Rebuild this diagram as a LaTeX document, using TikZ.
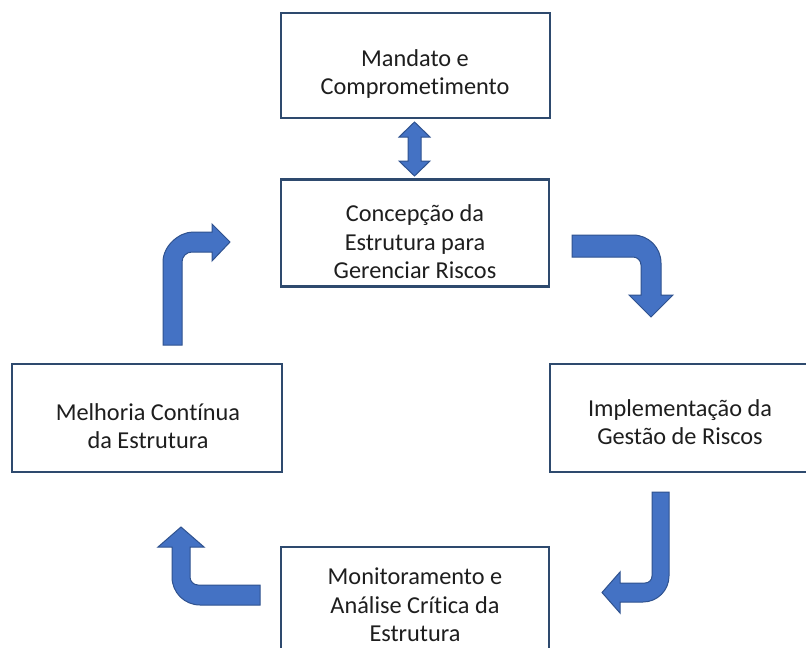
\documentclass[tikz,border=0pt]{standalone}
\usepackage{fontspec}
\setmainfont{Carlito}[Ligatures=NoCommon]
\definecolor{boxline}{HTML}{2E4A6E}
\definecolor{arrowfill}{HTML}{4472C4}
\definecolor{arrowline}{HTML}{2F528F}
\definecolor{txt}{HTML}{1E1E1E}
\begin{document}
\begin{tikzpicture}[x=1pt,y=-1pt,
  box/.style={draw=boxline,line width=2.5pt,inner sep=0pt},
  lbl/.style={align=center,text=txt,inner sep=0pt,font=\fontsize{24.3}{28.5}\selectfont},
  blockarrow/.style={fill=arrowfill,draw=arrowline,line width=1pt,line join=miter}]
\useasboundingbox (0,0) rectangle (806,648);
\clip (0,0) rectangle (806,648);
\fill[white] (0,0) rectangle (806,648);

% boxes
\node[box,minimum width=269pt,minimum height=105pt] (top) at (415.5,65.5) {};
\node[box,minimum width=268pt,minimum height=107pt] (mid) at (415,233) {};
\node[box,minimum width=270pt,minimum height=108pt] (left) at (147,418) {};
\node[box,minimum width=265pt,minimum height=108pt] (right) at (682.5,418) {};
\node[box,minimum width=268pt,minimum height=150pt] (bottom) at (415,622) {};

% texts
\node[lbl] (ttop) at (415,74) {Mandato e\\Comprometimento};
\node[lbl] (tmid) at (415,242) {Concepção da\\Estrutura para\\Gerenciar Riscos};
\node[lbl] (tleft) at (148,426) {Melhoria Contínua\\da Estrutura};
\node[lbl] (tright) at (680,422) {Implementação da\\Gestão de Riscos};
\node[lbl] (tbottom) at (415,605) {Monitoramento e\\Análise Crítica da\\Estrutura};

% double arrow
\draw[blockarrow] (414.5,122) -- (430,137) -- (421,137) -- (421,161) -- (430,161) -- (414.5,176)
  -- (399,161) -- (408,161) -- (408,137) -- (399,137) -- cycle;

% bent arrow: up then right
\draw[blockarrow] (163,345) -- (163,262) .. controls (163,245.4) and (179.6,232) .. (193,232) -- (212,232) -- (212,224)
  -- (230,242) -- (212,261) -- (212,252) -- (192,252) .. controls (186.5,252) and (182,256.5) .. (182,262) -- (182,345) -- cycle;

% bent arrow: right then down
\draw[blockarrow] (572,235) -- (633,235) .. controls (648.5,235) and (661,247.5) .. (661,263) -- (661,295) -- (673,295)
  -- (651,317) -- (629,295) -- (641,295) -- (641,265) .. controls (641,260.6) and (637.4,257) .. (633,257) -- (572,257) -- cycle;

% bent arrow: down then left
\draw[blockarrow] (652,492) -- (669,492) -- (669,576) .. controls (669,590.4) and (657.4,602) .. (643,602) -- (620,602)
  -- (620,613) -- (602,592.5) -- (620,572) -- (620,583) -- (645,583) .. controls (648.9,583) and (652,579.9) .. (652,576) -- cycle;

% bent arrow: left then up
\draw[blockarrow] (260,585) -- (260,605) -- (200,605) .. controls (184.5,605) and (172,592.5) .. (172,577) -- (172,547)
  -- (158,547) -- (181,527) -- (204,547) -- (190,547) -- (190,577) .. controls (190,581.4) and (193.6,585) .. (198,585) -- cycle;
\end{tikzpicture}
\end{document}
